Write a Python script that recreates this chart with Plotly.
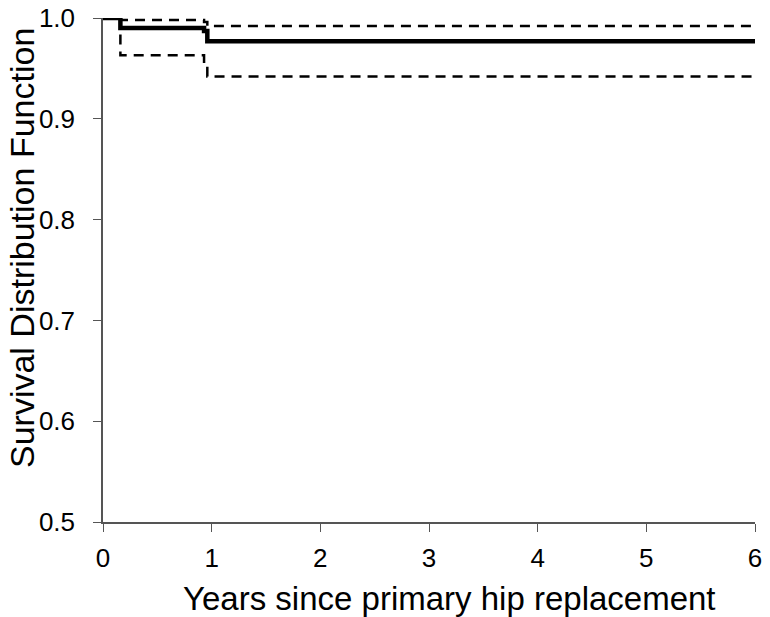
import plotly.graph_objects as go

years = [0, 0.16, 0.93, 0.96, 6]
survival = [1.0, 0.990, 0.987, 0.977, 0.977]
upper_ci = [1.0, 0.998, 0.996, 0.992, 0.992]
lower_ci = [1.0, 0.963, 0.955, 0.942, 0.942]

x_ticks = [0, 1, 2, 3, 4, 5, 6]
y_ticks = [0.5, 0.6, 0.7, 0.8, 0.9, 1.0]
x_title = "Years since primary hip replacement"
y_title = "Survival Distribution Function"

fig = go.Figure()
fig.add_trace(go.Scatter(x=years, y=upper_ci, mode="lines", line_shape="hv",
                         line=dict(color="black", width=2.5, dash="10px,7px"), showlegend=False))
fig.add_trace(go.Scatter(x=years, y=lower_ci, mode="lines", line_shape="hv",
                         line=dict(color="black", width=2.5, dash="10px,7px"), showlegend=False))
fig.add_trace(go.Scatter(x=years, y=survival, mode="lines", line_shape="hv",
                         line=dict(color="black", width=4.5), showlegend=False))

W, H = 762, 609
L, R, T, B = 95, 15, 10, 95
pw, ph = W - L - R, H - T - B

font = "Liberation Sans, Arial, sans-serif"
fig.update_layout(
    width=W, height=H,
    margin=dict(l=L, r=R, t=T, b=B, autoexpand=False),
    plot_bgcolor="white", paper_bgcolor="white",
    font=dict(family=font, color="black"),
)
axis_style = dict(showgrid=False, zeroline=False, showline=True, linecolor="#555555", linewidth=1.5,
                  ticks="outside", ticklen=8, tickcolor="#555555", tickfont=dict(size=26),
                  ticklabeloverflow="allow", automargin=False)
fig.update_xaxes(range=[0, 6], tickvals=x_ticks, ticktext=[str(v) for v in x_ticks],
                 ticklabelstandoff=4, **axis_style)
fig.update_yaxes(range=[0.5, 1.0], tickvals=y_ticks, ticktext=[f"{v:.1f}" for v in y_ticks],
                 ticklabelstandoff=13, **axis_style)

fig.add_annotation(text=x_title, xref="paper", yref="paper", x=(441 - L) / pw, y=-(590 - (H - B)) / ph,
                   xanchor="center", yanchor="middle", showarrow=False, font=dict(size=33))
fig.add_annotation(text=y_title, xref="paper", yref="paper", x=-(L - 14) / pw, y=((H - B) - 240) / ph,
                   xanchor="center", yanchor="middle", textangle=-90, showarrow=False, font=dict(size=34))

fig.write_html("out.html")
